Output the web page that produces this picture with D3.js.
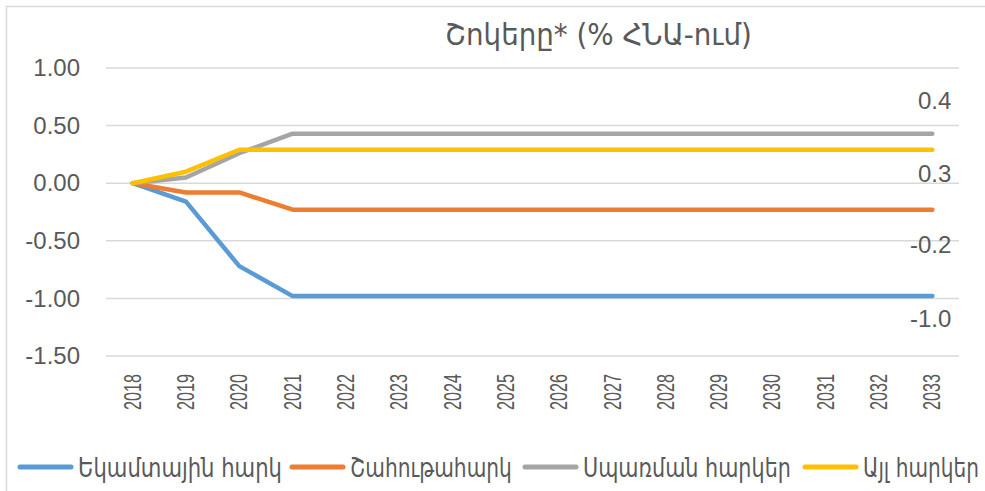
<!DOCTYPE html>
<html>
<head>
<meta charset="utf-8">
<script src="https://cdn.jsdelivr.net/npm/d3@7"></script>
<style>
  body { margin: 0; background: #fff; }
  text { font-family: "DejaVu Sans", sans-serif; fill: #595959; }
</style>
</head>
<body>
<div id="canvas"></div>
<script>
const years = ["2018","2019","2020","2021","2022","2023","2024","2025","2026","2027","2028","2029","2030","2031","2032","2033"];
const incomeTax = [0, -0.16, -0.72, -0.98, -0.98, -0.98, -0.98, -0.98, -0.98, -0.98, -0.98, -0.98, -0.98, -0.98, -0.98, -0.98];
const profitTax = [0, -0.08, -0.08, -0.23, -0.23, -0.23, -0.23, -0.23, -0.23, -0.23, -0.23, -0.23, -0.23, -0.23, -0.23, -0.23];
const consumptionTax = [0, 0.05, 0.26, 0.43, 0.43, 0.43, 0.43, 0.43, 0.43, 0.43, 0.43, 0.43, 0.43, 0.43, 0.43, 0.43];
const otherTax = [0, 0.10, 0.29, 0.29, 0.29, 0.29, 0.29, 0.29, 0.29, 0.29, 0.29, 0.29, 0.29, 0.29, 0.29, 0.29];
const seriesNames = ["Եկամտային հարկ", "Շահութահարկ", "Սպառման հարկեր", "Այլ հարկեր"];
const endLabels = ["-1.0", "-0.2", "0.4", "0.3"];
const yTicks = [-1.5, -1, -0.5, 0, 0.5, 1];

const series = [
  { name: seriesNames[0], values: incomeTax, color: "#5B9BD5", label: endLabels[0], dy: 31 },
  { name: seriesNames[1], values: profitTax, color: "#ED7D31", label: endLabels[1], dy: 43 },
  { name: seriesNames[2], values: consumptionTax, color: "#A5A5A5", label: endLabels[2], dy: -25 },
  { name: seriesNames[3], values: otherTax, color: "#FFC000", label: endLabels[3], dy: 32 }
];

const width = 985;
const height = 491;
const margin = { top: 68, left: 106, bottom: 135, right: 26 };
const iwidth = width - margin.left - margin.right;
const iheight = height - margin.top - margin.bottom;

// squeeze a text horizontally (in its own frame) to a target length
function squeeze(sel, target, x0, y0, extra) {
  sel.each(function () {
    const w = this.getComputedTextLength();
    const k = Math.min(1, target / w);
    d3.select(this).attr("transform", `translate(${x0},${y0}) ${extra || ""} scale(${k},1)`);
  });
}

const svg = d3.select("#canvas").append("svg")
  .attr("width", width)
  .attr("height", height);

// chart border
svg.append("rect")
  .attr("x", 6.5).attr("y", 6.5)
  .attr("width", width).attr("height", height)
  .attr("fill", "none")
  .attr("stroke", "#d9d9d9")
  .attr("stroke-width", 1.5);

const g = svg.append("g")
  .attr("transform", `translate(${margin.left},${margin.top})`);

const x = d3.scaleBand().domain(years).range([0, iwidth]);
const y = d3.scaleLinear().domain([-1.5, 1]).range([iheight, 0]);

// gridlines
g.selectAll(".grid")
  .data(yTicks)
  .enter()
  .append("line")
  .attr("x1", 0).attr("x2", iwidth)
  .attr("y1", d => y(d)).attr("y2", d => y(d))
  .attr("stroke", "#d9d9d9")
  .attr("stroke-width", 1.5);

// y axis
const yAxis = g.append("g")
  .call(d3.axisLeft(y).tickValues(yTicks)
    .tickFormat(d => d3.format(".2f")(d).replace("−", "-"))
    .tickSize(0).tickPadding(26));
yAxis.select(".domain").remove();
yAxis.selectAll("text")
  .style("font-size", "24px")
  .style("font-family", "Liberation Sans, Arial, sans-serif")
  .attr("fill", "#595959");

// x axis
const xAxis = g.append("g")
  .attr("transform", `translate(0,${iheight})`)
  .call(d3.axisBottom(x).tickSize(0));
xAxis.select(".domain").remove();
xAxis.selectAll("text")
  .style("font-size", "23px")
  .style("font-family", "Liberation Sans, Arial, sans-serif")
  .attr("fill", "#595959")
  .attr("text-anchor", "end")
  .attr("x", 0)
  .attr("y", 0)
  .attr("dy", "0.35em")
  .call(squeeze, 36, 0, 18, "rotate(-90)");

const line = d3.line()
  .x((d, i) => x(years[i]) + x.bandwidth() / 2)
  .y(d => y(d));

g.selectAll(".series")
  .data(series)
  .enter()
  .append("path")
  .attr("d", d => line(d.values))
  .attr("fill", "none")
  .attr("stroke", d => d.color)
  .attr("stroke-width", 4.5)
  .attr("stroke-linecap", "round")
  .attr("stroke-linejoin", "round");

// end labels
g.selectAll(".endlabel")
  .data(series)
  .enter()
  .append("text")
  .attr("x", x(years[years.length - 1]) + x.bandwidth() / 2 + 19)
  .attr("y", d => y(d.values[d.values.length - 1]) + d.dy)
  .attr("text-anchor", "end")
  .style("font-size", "24px")
  .style("font-family", "Liberation Sans, Arial, sans-serif")
  .attr("fill", "#404040")
  .text(d => d.label);

// title
svg.append("text")
  .style("font-size", "30px")
  .text("Շոկերը* (% ՀՆԱ-ում)")
  .call(squeeze, 307, 445, 45);

// legend
const legendX = [18, 290, 523, 803];
const legendTextW = [204, 162, 208, 116];
const legend = svg.selectAll(".legend")
  .data(series)
  .enter()
  .append("g")
  .attr("transform", (d, i) => `translate(${legendX[i]},467)`);
legend.append("line")
  .attr("x1", 2).attr("x2", 53)
  .attr("stroke", d => d.color)
  .attr("stroke-width", 5)
  .attr("stroke-linecap", "round");
legend.append("text")
  .style("font-size", "27px")
  .text(d => d.name)
  .each(function (d, i) {
    d3.select(this).call(squeeze, legendTextW[i], 60, 10);
  });
</script>
</body>
</html>
